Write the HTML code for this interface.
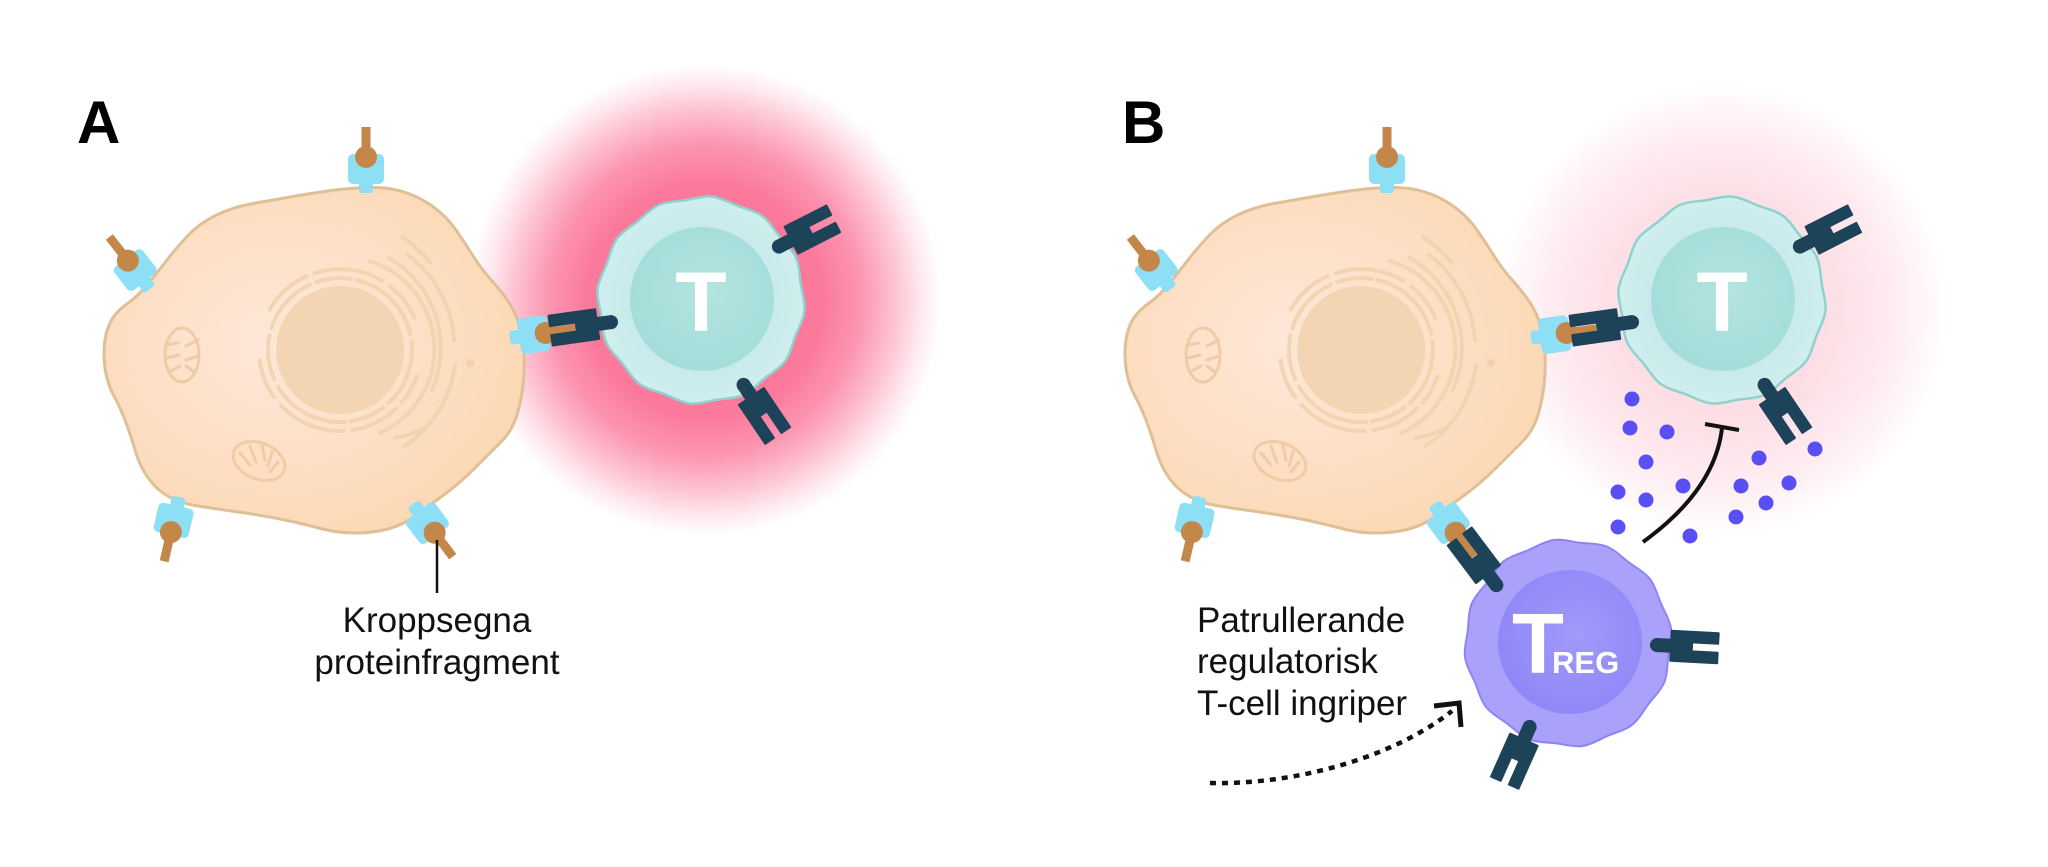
<!DOCTYPE html>
<html><head><meta charset="utf-8"><style>
html,body{margin:0;padding:0;background:#fff;}
svg{display:block;}
</style></head><body>
<svg width="2048" height="867" viewBox="0 0 2048 867" xmlns="http://www.w3.org/2000/svg">
<defs>
<radialGradient id="glowA" cx="705" cy="300" r="236" gradientUnits="userSpaceOnUse">
<stop offset="0" stop-color="#fa6e92"/><stop offset="0.5" stop-color="#fb7a9c"/><stop offset="0.66" stop-color="#fc95b0"/><stop offset="0.8" stop-color="#fdc1d0"/><stop offset="0.92" stop-color="#feeaf0"/><stop offset="1" stop-color="#ffffff"/>
</radialGradient>
<radialGradient id="glowB" cx="1722" cy="310" r="226" gradientUnits="userSpaceOnUse">
<stop offset="0" stop-color="#fcd6e0"/><stop offset="0.5" stop-color="#fddfe6"/><stop offset="0.75" stop-color="#feebf0"/><stop offset="0.92" stop-color="#fff8fa"/><stop offset="1" stop-color="#ffffff"/>
</radialGradient>
<radialGradient id="cellg" cx="0.42" cy="0.45" r="0.62">
<stop offset="0" stop-color="#fee8da"/><stop offset="1" stop-color="#fcd8b4"/>
</radialGradient>
<radialGradient id="tin" cx="0.55" cy="0.45" r="0.6">
<stop offset="0" stop-color="#b3e4e1"/><stop offset="1" stop-color="#a2dcd8"/>
</radialGradient>
<radialGradient id="tout" cx="0.5" cy="0.5" r="0.55">
<stop offset="0.6" stop-color="#c7eaea"/><stop offset="1" stop-color="#d3eff0"/>
</radialGradient>
<radialGradient id="rin" cx="0.55" cy="0.45" r="0.6">
<stop offset="0" stop-color="#a19afa"/><stop offset="1" stop-color="#8f86f7"/>
</radialGradient>
<path id="wave" d="M104,0 C104,9.09 99.85,17.61 97.56,26.14 C95.27,34.67 94.61,44.13 90.06,52 C85.51,59.87 77.66,65.18 71.42,71.42 C65.18,77.66 59.87,85.51 52,90.06 C44.13,94.61 34.67,95.27 26.14,97.56 C17.61,99.85 9.09,104 0,104 C-9.09,104 -17.61,99.85 -26.14,97.56 C-34.67,95.27 -44.13,94.61 -52,90.06 C-59.87,85.51 -65.18,77.66 -71.42,71.42 C-77.66,65.18 -85.51,59.87 -90.06,52 C-94.61,44.13 -95.27,34.67 -97.56,26.14 C-99.85,17.61 -104,9.09 -104,0 C-104,-9.09 -99.85,-17.61 -97.56,-26.14 C-95.27,-34.67 -94.61,-44.13 -90.06,-52 C-85.51,-59.87 -77.66,-65.18 -71.42,-71.42 C-65.18,-77.66 -59.87,-85.51 -52,-90.06 C-44.13,-94.61 -34.67,-95.27 -26.14,-97.56 C-17.61,-99.85 -9.09,-104 0,-104 C9.09,-104 17.61,-99.85 26.14,-97.56 C34.67,-95.27 44.13,-94.61 52,-90.06 C59.87,-85.51 65.18,-77.66 71.42,-71.42 C77.66,-65.18 85.51,-59.87 90.06,-52 C94.61,-44.13 95.27,-34.67 97.56,-26.14 C99.85,-17.61 104,-9.09 104,0 Z"/>
<path id="cellpath" d="M331.5,190.5 Q350,188 369,187.5 Q388,187 404,192 Q420,197 433.5,207 Q447,217 456,230 Q465,243 473.5,256.5 Q482,270 492.5,281.5 Q503,293 510.5,305 Q518,317 521.5,335 Q525,353 524,373 Q523,393 518,411.5 Q513,430 501.5,441.5 Q490,453 475,468 Q460,483 445,494 Q430,505 416.5,515 Q403,525 388,529 Q373,533 355,533 Q337,533 318.5,528 Q300,523 280,519 Q260,515 235,511.5 Q210,508 195,505.5 Q180,503 168.5,496.5 Q157,490 148.5,478.5 Q140,467 135,450 Q130,433 125,420 Q120,407 113.5,395 Q107,383 105,368 Q103,353 105,340 Q107,327 112.5,318.5 Q118,310 127.5,303.5 Q137,297 147,285 Q157,273 167,260 Q177,247 188.5,235 Q200,223 216.5,215 Q233,207 253,203.5 Q273,200 293,196.5 Q313,193 331.5,190.5 Z"/>
<g id="rec">
<rect x="-7" y="-12" width="14" height="12" rx="3" fill="#8ddff6"/>
<rect x="-18" y="-39" width="36" height="30" rx="5" fill="#8ddff6"/>
<rect x="-4.5" y="-66" width="9" height="31" fill="#c4874a"/>
<circle cx="0" cy="-36" r="11" fill="#c4874a"/>
</g>
<g id="tcr">
<path d="M0,-6 H15 V-15 H62 V-4.5 H36 V4.5 H62 V15 H15 V6 H0 Z" fill="#1d4359" stroke="#1d4359" stroke-width="2" stroke-linejoin="round"/>
<circle cx="1" cy="0" r="7" fill="#1d4359"/>
</g>
<g id="cellbody">
<use href="#cellpath" fill="url(#cellg)" stroke="#dfc096" stroke-width="3"/>
<circle cx="340" cy="350" r="64" fill="#f3d5b3"/>
<circle cx="340" cy="350" r="67" fill="none" stroke="#fbe4cd" stroke-width="1.5"/>
<g fill="none" stroke="#f2d2ad" stroke-width="4" stroke-linecap="round" opacity="0.85">
<circle cx="340" cy="350" r="72" stroke-dasharray="60 7 35 6 80 8 45 7"/>
<circle cx="340" cy="350" r="81" stroke-dasharray="50 9 70 10 40 60 30 8" transform="rotate(-150 340 350)"/>
<path d="M369,261 A92,92 0 0 1 380,433"/>
<path d="M389,258 A104,104 0 0 1 432,390"/>
<path d="M425,428 A104,104 0 0 1 395,438"/>
<path d="M408,255 A116,116 0 0 1 454,340"/>
<path d="M455,365 A116,116 0 0 1 405,446"/>
<path d="M402,237 A128,128 0 0 1 430,262"/>
</g>
<circle cx="470" cy="363" r="4" fill="#f1d0aa"/>
<g fill="none" stroke="#efcca5" stroke-width="3" stroke-linecap="round">
<ellipse cx="182" cy="355" rx="17" ry="27"/>
<path d="M166,345 L178,343 M198,340 L186,346 M166,358 L179,355 M198,356 L186,360 M169,372 L180,366 M194,372 L186,366"/>
<ellipse cx="259" cy="461" rx="27" ry="18" transform="rotate(22 259 461)"/>
<path d="M240,453 L250,465 M250,446 L256,462 M262,445 L265,460 M272,452 L268,466 M278,462 L270,472 M238,468 L248,476"/>
</g>
</g>
</defs>

<!-- glows -->
<circle cx="705" cy="300" r="236" fill="url(#glowA)"/>
<circle cx="1722" cy="310" r="226" fill="url(#glowB)"/>

<!-- labels A/B -->
<text x="77" y="143" font-family="Liberation Sans, sans-serif" font-weight="bold" font-size="60" fill="#000">A</text>
<text x="1122" y="143" font-family="Liberation Sans, sans-serif" font-weight="bold" font-size="60" fill="#000">B</text>

<!-- cell A -->
<use href="#cellbody"/>
<use href="#rec" transform="translate(366,193)"/>
<use href="#rec" transform="translate(150,289) rotate(-38)"/>
<use href="#rec" transform="translate(510,338) rotate(82)"/>
<use href="#rec" transform="translate(179,497) rotate(193)"/>
<use href="#rec" transform="translate(413,504) rotate(143)"/>

<!-- T cell A -->
<use href="#wave" transform="translate(701,300) rotate(6)" fill="url(#tout)" stroke="#8fd2cd" stroke-width="2.5"/>
<circle cx="702" cy="299" r="72" fill="url(#tin)"/>
<use href="#tcr" transform="translate(612,322) rotate(172)"/>
<use href="#tcr" transform="translate(778,247) rotate(-27)"/>
<use href="#tcr" transform="translate(743,384) rotate(56)"/>
<text x="701" y="331" text-anchor="middle" font-family="Liberation Sans, sans-serif" font-weight="bold" font-size="84" fill="#fff">T</text>

<!-- label A -->
<line x1="437" y1="540" x2="437" y2="593" stroke="#111" stroke-width="2.5"/>
<text font-family="Liberation Sans, sans-serif" font-size="35" fill="#111" text-anchor="middle"><tspan x="437" y="632">Kroppsegna</tspan><tspan x="437" y="674">proteinfragment</tspan></text>

<!-- cell B -->
<g transform="translate(1021,0)">
<use href="#cellbody"/>
<use href="#rec" transform="translate(366,193)"/>
<use href="#rec" transform="translate(150,289) rotate(-38)"/>
<use href="#rec" transform="translate(510,338) rotate(82)"/>
<use href="#rec" transform="translate(179,497) rotate(193)"/>
<use href="#rec" transform="translate(413,504) rotate(143)"/>
</g>

<!-- T cell B -->
<use href="#wave" transform="translate(1722,300) rotate(6)" fill="url(#tout)" stroke="#8fd2cd" stroke-width="2.5"/>
<circle cx="1723" cy="299" r="72" fill="url(#tin)"/>
<use href="#tcr" transform="translate(1633,322) rotate(172)"/>
<use href="#tcr" transform="translate(1799,247) rotate(-27)"/>
<use href="#tcr" transform="translate(1764,384) rotate(56)"/>
<text x="1722" y="331" text-anchor="middle" font-family="Liberation Sans, sans-serif" font-weight="bold" font-size="84" fill="#fff">T</text>

<!-- Treg -->
<use href="#wave" transform="translate(1568,643) rotate(-8)" fill="#aaa2fa" stroke="#8d83f5" stroke-width="2"/>
<circle cx="1570" cy="642" r="72" fill="url(#rin)"/>
<use href="#tcr" transform="translate(1497,586) rotate(-127)"/>
<use href="#tcr" transform="translate(1656,645) rotate(3)"/>
<use href="#tcr" transform="translate(1530,726) rotate(114)"/>
<text x="1512" y="673" font-family="Liberation Sans, sans-serif" font-weight="bold" font-size="85" fill="#fff">T</text>
<text x="1552" y="673" font-family="Liberation Sans, sans-serif" font-weight="bold" font-size="31" fill="#fff">REG</text>

<!-- cytokine dots -->
<g fill="#5a4ff5">
<circle cx="1632" cy="399" r="7.5"/><circle cx="1630" cy="428" r="7.5"/><circle cx="1667" cy="432" r="7.5"/>
<circle cx="1646" cy="462" r="7.5"/><circle cx="1618" cy="492" r="7.5"/><circle cx="1646" cy="500" r="7.5"/>
<circle cx="1683" cy="486" r="7.5"/><circle cx="1618" cy="527" r="7.5"/><circle cx="1690" cy="536" r="7.5"/>
<circle cx="1759" cy="458" r="7.5"/><circle cx="1815" cy="449" r="7.5"/><circle cx="1741" cy="486" r="7.5"/>
<circle cx="1789" cy="483" r="7.5"/><circle cx="1766" cy="503" r="7.5"/><circle cx="1736" cy="517" r="7.5"/>
</g>

<!-- inhibition -->
<path d="M1643,542 Q1715,490 1722,428" fill="none" stroke="#111" stroke-width="4"/>
<line x1="1705" y1="424" x2="1739" y2="430" stroke="#111" stroke-width="4"/>

<!-- B text -->
<text font-family="Liberation Sans, sans-serif" font-size="35" fill="#111"><tspan x="1197" y="632">Patrullerande</tspan><tspan x="1197" y="673">regulatorisk</tspan><tspan x="1197" y="715">T-cell ingriper</tspan></text>

<!-- dotted arrow -->
<path d="M1210,783 C1290,785 1390,760 1452,711" fill="none" stroke="#111" stroke-width="4.5" stroke-dasharray="6 6"/>
<polyline points="1434,706 1459,703 1461,727" fill="none" stroke="#111" stroke-width="5" stroke-linejoin="miter"/>
</svg>
</body></html>
